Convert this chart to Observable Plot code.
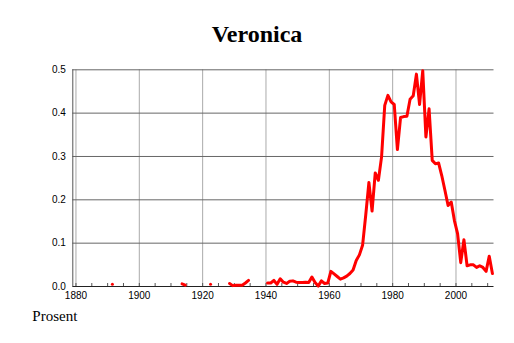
<!DOCTYPE html>
<html>
<head>
<meta charset="utf-8">
<script src="https://cdn.jsdelivr.net/npm/d3@7"></script>
<script src="https://cdn.jsdelivr.net/npm/@observablehq/plot@0.6"></script>
<style>
  html, body { margin: 0; padding: 0; background: #fff; }
  #wrap { position: relative; width: 514px; height: 343px; overflow: hidden; }
  #chart { position: absolute; left: 0; top: 0; }
  #title { position: absolute; left: 0; top: 21.6px; width: 514px; text-align: center;
           font: bold 24px/24px "Liberation Serif", "Times New Roman", serif; color: #000; }
  #caption { position: absolute; left: 32.3px; top: 309px;
             font: 15px/15px "Liberation Serif", "Times New Roman", serif; color: #000; }
</style>
</head>
<body>
<div id="wrap">
  <div id="chart"></div>
  <div id="title">Veronica</div>
  <div id="caption">Prosent</div>
</div>
<script>
// Chart text
const titleText = "Veronica";
const captionText = "Prosent";

// Axis ticks
const xMajorTicks = [1880, 1900, 1920, 1940, 1960, 1980, 2000];
const xMinorTicks = d3.range(1880, 2011, 5);
const yTicks = [0.0, 0.1, 0.2, 0.3, 0.4, 0.5];

// Series: share of births (percent), in unbroken runs of years
const segmentStarts = [1891, 1913, 1922, 1928, 1940];
const seg1891 = [0.005];
const seg1913 = [0.006, 0.003];
const seg1922 = [0.005];
const seg1928 = [0.007, 0.002, 0.003, 0.003, 0.003, 0.008, 0.014];
const seg1940 = [
  0.008, 0.008, 0.014, 0.005, 0.018, 0.010, 0.007, 0.012, 0.013, 0.010, // 1940-49
  0.009, 0.009, 0.010, 0.009, 0.022, 0.009, 0.001, 0.013, 0.007, 0.008, // 1950-59
  0.035, 0.029, 0.023, 0.017, 0.020, 0.024, 0.030, 0.038, 0.060, 0.073, // 1960-69
  0.095, 0.165, 0.240, 0.174, 0.262, 0.245, 0.299, 0.418, 0.441, 0.426, // 1970-79
  0.420, 0.316, 0.390, 0.392, 0.393, 0.432, 0.440, 0.490, 0.420, 0.498, // 1980-89
  0.345, 0.410, 0.291, 0.283, 0.285, 0.256, 0.222, 0.187, 0.195, 0.152, // 1990-99
  0.122, 0.055, 0.108, 0.048, 0.050, 0.050, 0.044, 0.048, 0.044, 0.035, // 2000-09
  0.070, 0.030                                                          // 2010-11
];
const segmentValues = [seg1891, seg1913, seg1922, seg1928, seg1940];

const rows = segmentStarts.flatMap((start, k) =>
  segmentValues[k].map((v, i) => ({year: start + i, value: v, seg: k}))
);

document.getElementById("title").textContent = titleText;
document.getElementById("caption").textContent = captionText;

const chart = Plot.plot({
  width: 514,
  height: 343,
  marginLeft: 72.3,
  marginRight: 20.5,
  marginTop: 69.3,
  marginBottom: 57,
  style: {fontFamily: "'Liberation Sans', Arial, sans-serif", fontSize: "10px", color: "#000", background: "#fff"},
  x: {domain: [1879, 2012]},
  y: {domain: [0, 0.5]},
  marks: [
    Plot.gridX(xMajorTicks, {stroke: "#aaaaaa", strokeOpacity: 1}),
    Plot.gridY(yTicks.filter(t => t > 0), {stroke: "#666666", strokeOpacity: 1}),
    Plot.ruleX([1879], {stroke: "#555555"}),
    Plot.ruleY([0], {stroke: "#222222"}),
    Plot.axisY({ticks: yTicks, tickSize: 0, tickPadding: 7, tickFormat: d3.format(".1f"), label: null}),
    Plot.axisX({ticks: xMajorTicks, tickSize: 0, tickPadding: 5.5, tickFormat: d3.format("d"), label: null}),
    Plot.axisX({ticks: xMinorTicks, tickSize: -3, tickFormat: () => "", label: null, stroke: "#555555"}),
    // annual values are centred on the middle of each year
    Plot.line(rows, {x: d => d.year + 0.5, y: "value", z: "seg", stroke: "#ff0000", strokeWidth: 3})
  ]
});
document.getElementById("chart").appendChild(chart);
</script>
</body>
</html>
